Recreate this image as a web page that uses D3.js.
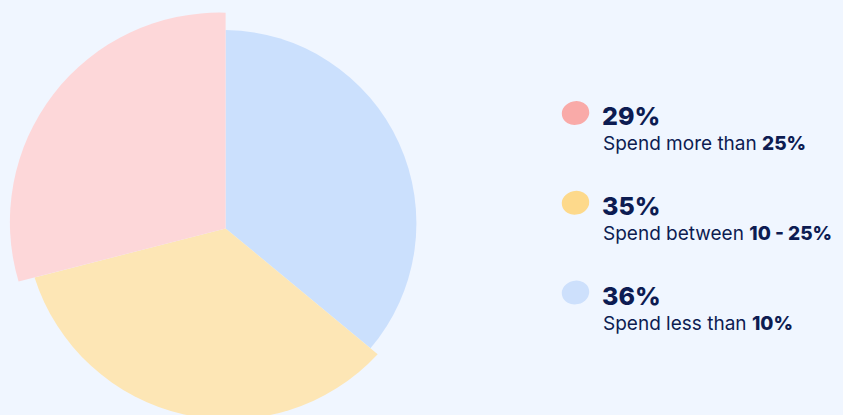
<!DOCTYPE html>
<html>
<head>
<meta charset="utf-8">
<script src="https://cdn.jsdelivr.net/npm/d3@7"></script>
<style>
  html, body { margin: 0; padding: 0; background: #f0f6ff; }
  svg { display: block; }
</style>
</head>
<body>
<svg id="chart" width="843" height="415"></svg>
<script>
// ---- data ----
const categories = ["Spend more than 25%", "Spend between 10 - 25%", "Spend less than 10%"];
const values = [29, 35, 36];
const valueLabels = ["29%", "35%", "36%"];
const labelPrefix = ["Spend more than ", "Spend between ", "Spend less than "];
const labelBold = ["25%", "10 - 25%", "10%"];

// ---- styles ----
const sliceColors = ["#fdd7d9", "#fde6b5", "#cbe0fd"];
const blobColors = ["#f9aaa8", "#fdd98b", "#cde0fc"];
const textColor = "#0d1c52";
const center = [225.6, 228.4];
// per-slice arc circle (offset from the vertex) and radius
const arcOffset = [[-6.4, -6.5], [2.9, -12.6], [-2.4, -5.2]];
const arcRadius = [209.3, 203.5, 193.2];

const svg = d3.select("#chart");
svg.append("rect").attr("width", 843).attr("height", 415).attr("fill", "#f0f6ff");

// pie order: blue (36) from 12 o'clock clockwise, then yellow, then pink
const order = [2, 1, 0];
const pie = d3.pie().sort(null).value(i => values[i]);
const arcs = pie(order);

function slicePath(d) {
  const i = d.data;
  const [vx, vy] = center;
  const cx = vx + arcOffset[i][0], cy = vy + arcOffset[i][1];
  const r = arcRadius[i];
  function hit(a) {
    const ux = Math.sin(a), uy = -Math.cos(a);
    const dx = vx - cx, dy = vy - cy;
    const b = dx * ux + dy * uy;
    const t = -b + Math.sqrt(b * b - (dx * dx + dy * dy) + r * r);
    const px = vx + t * ux, py = vy + t * uy;
    return Math.atan2(py - cy, px - cx);
  }
  let t0 = hit(d.startAngle), t1 = hit(d.endAngle);
  while (t1 < t0) t1 += 2 * Math.PI;
  const p = d3.path();
  p.moveTo(vx, vy);
  p.arc(cx, cy, r, t0, t1, false);
  p.closePath();
  return p.toString();
}

svg.append("g").selectAll("path")
  .data(arcs)
  .join("path")
  .attr("d", slicePath)
  .attr("fill", d => sliceColors[d.data]);

// ---- legend ----
const legendY = d3.scalePoint().domain(d3.range(categories.length)).range([125, 304.5]);
const lg = svg.append("g");
const items = lg.selectAll("g").data(d3.range(categories.length)).join("g")
  .attr("transform", i => `translate(0,${legendY(i)})`);

items.append("ellipse")
  .attr("cx", 0).attr("cy", 0).attr("rx", 13.8).attr("ry", 11.8)
  .attr("transform", "translate(575.5,-12) rotate(-12)")
  .attr("fill", i => blobColors[i]);

items.append("text")
  .attr("x", 602).attr("y", 0)
  .attr("font-family", "Inter, 'Noto Sans', sans-serif")
  .attr("font-weight", 800)
  .attr("font-size", 25)
  .attr("fill", textColor)
  .text(i => valueLabels[i]);

const sub = items.append("text")
  .attr("x", 603).attr("y", 25)
  .attr("font-family", "Inter, 'Noto Sans', sans-serif")
  .attr("font-size", 19)
  .attr("fill", textColor);
sub.append("tspan").attr("font-weight", 400).text(i => labelPrefix[i]);
sub.append("tspan").attr("font-weight", 800).text(i => labelBold[i]);
</script>
</body>
</html>
